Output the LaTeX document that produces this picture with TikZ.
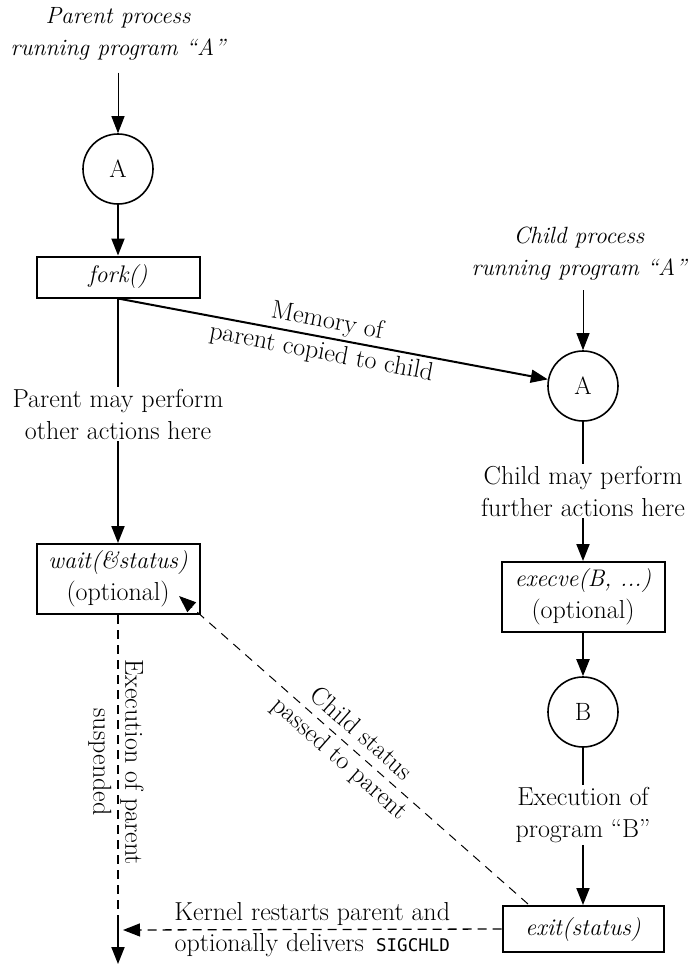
\documentclass[tikz,border=0pt]{standalone}
\usepackage{fontspec}
\newfontfamily\sigfont{DejaVu Sans Mono}
\usetikzlibrary{arrows.meta}
\tikzset{
  base/.style={font=\fontsize{26}{32}\selectfont, align=center},
  lbl/.style={base, inner sep=2pt},
  ilbl/.style={base, font=\fontsize{23.5}{32}\selectfont\itshape, inner sep=2pt},
  circ/.style={base, font=\fontsize{25}{30}\selectfont, draw, circle, line width=1.6pt, minimum size=70pt, inner sep=0pt},
  boxnode/.style={base, draw, rectangle, line width=2pt, minimum width=163pt, inner sep=2pt},
  tip/.style={-{Triangle[length=17pt,width=13pt]}},
  thin/.style={line width=1pt},
  thick/.style={line width=2pt},
}
\begin{document}
\begin{tikzpicture}[x=1pt,y=-1pt]
\useasboundingbox (0,0) rectangle (692,966);
% parent side
\node[ilbl] (plabel) at (118,34) {Parent process\\running program ``A''};
\node[circ] (pA) at (118,169) {A};
\node[boxnode, minimum height=41pt] (fork) at (118,277) {\textit{\fontsize{24}{32}\selectfont fork()}};
\node[lbl] (ptext) at (118,414) {Parent may perform\\other actions here};
\node[boxnode, minimum height=70pt] (wait) at (118,579) {{\fontsize{24}{32}\selectfont\itshape wait(\&status)}\\(optional)};
\coordinate (pmid) at (118,918);
\coordinate (pend) at (118,964);
\node[lbl, rotate=-90] (susp) at (116,762) {Execution of parent\\suspended};
% child side
\node[ilbl] (clabel) at (579,254) {Child process\\running program ``A''};
\node[circ] (cA) at (583,386) {A};
\node[lbl] (ctext) at (583,491) {Child may perform\\further actions here};
\node[boxnode, minimum height=70pt] (execve) at (583,597) {{\fontsize{24}{32}\selectfont\itshape execve(B, ...)}\\(optional)};
\node[circ] (cB) at (583,712) {B};
\node[lbl] (btext) at (583,815) {Execution of\\program ``B''};
\node[boxnode, minimum width=161pt, minimum height=46pt] (exit) at (583,929) {\textit{\fontsize{24}{32}\selectfont exit(status)}};
\coordinate (cltop) at (583,290);
\coordinate (kend) at (123,930);
\coordinate (cs1) at (528,904);
\coordinate (cs2) at (179,596);
% connectors parent
\draw[thin, tip] (plabel.south) ++(0,10) -- (pA.north);
\draw[thick, tip] (pA.south) -- (fork.north);
\draw[thick] (fork.south) -- (ptext.north);
\draw[thick, tip] (ptext.south) -- (wait.north);
\draw[thick, dashed, dash pattern=on 9pt off 6pt] (wait.south) -- (pmid);
\draw[thick, tip] (pmid) -- (pend);
% fork to child
\draw[thick, tip] (fork.south) -- node[lbl, sloped, pos=0.48] (mem) {Memory of\\parent copied to child} (cA);
% child connectors
\draw[thin, tip] (cltop) -- (cA.north);
\draw[thick] (cA.south) -- (ctext.north);
\draw[thick, tip] (ctext.south) -- (execve.north);
\draw[thick, tip] (execve.south) -- (cB.north);
\draw[thick] (cB.south) -- (btext.north);
\draw[thick, tip] (btext.south) -- (exit.north);
% dashed returns
\draw[line width=1.3pt, dashed, dash pattern=on 9pt off 6pt, tip] (exit.west) -- node[lbl, above, pos=0.5, inner sep=3pt] (k1) {Kernel restarts parent and} node[lbl, below, pos=0.5, inner sep=3pt] (k2) {optionally delivers \,{\sigfont\fontsize{17.5}{20}\selectfont SIGCHLD}} (kend);
\draw[thin, dashed, dash pattern=on 9pt off 7pt, tip] (cs1) -- node[lbl, sloped, pos=0.51] (cst) {Child status\\passed to parent} (cs2);
\end{tikzpicture}
\end{document}
